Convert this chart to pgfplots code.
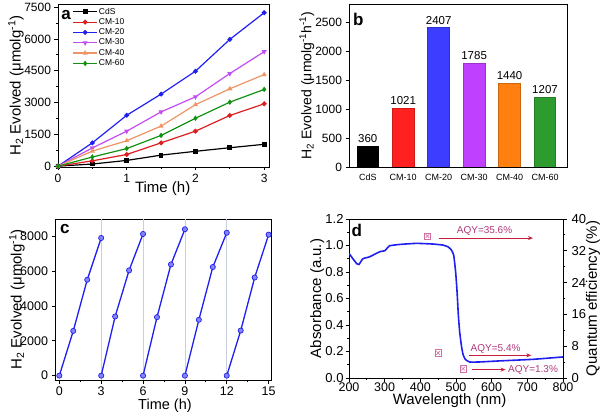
\documentclass[border=0pt]{standalone}
\usepackage{pgfplots}
\pgfplotsset{compat=1.18}
\usepackage{fontspec}
\setmainfont{Liberation Sans}
\usetikzlibrary{arrows.meta}

\definecolor{cRed}{HTML}{DD1E1E}
\definecolor{cBlue}{HTML}{1F1FF0}
\definecolor{cViolet}{HTML}{C24DF2}
\definecolor{cOrange}{HTML}{EE9466}
\definecolor{cGreen}{HTML}{129212}
\definecolor{bRed}{HTML}{FF2020}
\definecolor{bBlue}{HTML}{3D3DFF}
\definecolor{bViolet}{HTML}{C040FF}
\definecolor{bOrange}{HTML}{FF7F10}
\definecolor{bGreen}{HTML}{2E9B2E}
\definecolor{arr}{HTML}{C81E3C}
\definecolor{aqy}{HTML}{B0387A}
\definecolor{mk}{HTML}{D070A0}
\definecolor{gridc}{HTML}{C8D0E0}

\newcommand{\fs}[1]{\fontsize{#1bp}{#1bp}\selectfont}

\pgfplotsset{
  every axis/.append style={
    scale only axis, anchor=south west,
    /pgf/number format/assume math mode=true,
    /pgf/number format/1000 sep={},
    tick align=outside, tick pos=left,
    axis line style={line width=0.9bp},
    major tick length=3.5bp, minor tick length=2bp,
    every tick/.style={black, line width=0.8bp},
  },
  cyc/.style={cBlue, line width=1.3bp, mark=*, mark size=2.6bp,
    mark options={fill=cBlue!55!white, draw=cBlue, line width=0.7bp}},
}

\begin{document}
\begin{tikzpicture}
\useasboundingbox (0,0) rectangle (602bp,414bp);

% ---------- panel a ----------
\begin{axis}[at={(58bp,247bp)}, width=211bp, height=163bp,
  xmin=0, xmax=3.07, ymin=-40, ymax=7650,
  xtick={0,1,2,3}, ytick={0,1500,3000,4500,6000,7500},
  minor x tick num=1, minor y tick num=1,
  ticklabel style={font=\fs{12}},
  xlabel={Time (h)}, ylabel={H\textsubscript{2} Evolved (μmolg\textsuperscript{-1})},
  xlabel style={font=\fs{15}, at={(axis description cs:0.496,-0.131)}, anchor=center},
  ylabel style={font=\fs{15}, at={(axis description cs:-0.199,0.5)}, anchor=center},
  legend style={draw=none, fill=none, font=\fs{8.5}, at={(0.068,0.985)}, anchor=north west,
    row sep=0.5bp, inner sep=0pt, nodes={inner sep=1.2bp}, cells={anchor=west}},
  legend image code/.code={\draw[mark repeat=2,mark phase=2,#1] plot coordinates {(0bp,0bp) (12bp,0bp) (24bp,0bp)};},
  every axis plot/.append style={line width=1.2bp, mark size=1.8bp},
]
\addplot[black, mark=square*] coordinates {(0,0) (0.5,100) (1,270) (1.5,520) (2,700) (2.5,870) (3,1030)};
\addlegendentry{CdS}
\addplot[cRed, mark=*] coordinates {(0,0) (0.5,250) (1,550) (1.5,1100) (2,1650) (2.5,2390) (3,2940)};
\addlegendentry{CM-10}
\addplot[cBlue, mark=*] coordinates {(0,0) (0.5,1100) (1,2400) (1.5,3400) (2,4480) (2.5,5980) (3,7240)};
\addlegendentry{CM-20}
\addplot[cViolet, mark=triangle*, mark options={rotate=180}] coordinates {(0,0) (0.5,860) (1,1650) (1.5,2560) (2,3270) (2.5,4370) (3,5400)};
\addlegendentry{CM-30}
\addplot[cOrange, mark=triangle*] coordinates {(0,0) (0.5,710) (1,1200) (1.5,1890) (2,2900) (2.5,3650) (3,4320)};
\addlegendentry{CM-40}
\addplot[cGreen, mark=diamond*] coordinates {(0,0) (0.5,430) (1,830) (1.5,1450) (2,2260) (2.5,3020) (3,3620)};
\addlegendentry{CM-60}
\node[font=\fs{17}\bfseries] at (axis description cs:0.038,0.933) {a};
\end{axis}

% ---------- panel b ----------
\begin{axis}[at={(349bp,247bp)}, width=218bp, height=163bp,
  xmin=-0.53, xmax=5.62, ymin=0, ymax=2820,
  xtick={0,...,5}, xticklabels={CdS,CM-10,CM-20,CM-30,CM-40,CM-60},
  x tick style={draw=none}, xticklabel style={font=\fs{9}},
  ytick={0,500,1000,1500,2000,2500}, yticklabel style={font=\fs{12}},
  ylabel={H\textsubscript{2} Evolved (μmolg\textsuperscript{-1}h\textsuperscript{-1})},
  ylabel style={font=\fs{14}, at={(axis description cs:-0.193,0.5)}, anchor=center},
  every axis plot/.append style={ybar, bar width=0.61, bar shift=0pt, line width=0.8bp,
    nodes near coords, nodes near coords style={font=\fs{11.5}, black}},
]
\addplot[fill=black, draw=black] coordinates {(0,360)};
\addplot[fill=bRed, draw=bRed!80!black] coordinates {(1,1021)};
\addplot[fill=bBlue, draw=bBlue!80!black] coordinates {(2,2407)};
\addplot[fill=bViolet, draw=bViolet!80!black] coordinates {(3,1785)};
\addplot[fill=bOrange, draw=bOrange!80!black] coordinates {(4,1440)};
\addplot[fill=bGreen, draw=bGreen!80!black] coordinates {(5,1207)};
\node[font=\fs{17}\bfseries] at (axis description cs:0.043,0.905) {b};
\end{axis}

% ---------- panel c ----------
\begin{axis}[at={(55bp,34bp)}, width=216bp, height=161bp,
  xmin=-0.31, xmax=15.17, ymin=-250, ymax=9000,
  xtick={0,3,6,9,12,15}, ytick={0,2000,4000,6000,8000},
  minor x tick num=1,
  ticklabel style={font=\fs{12.5}},
  extra x ticks={3,6,9,12}, extra x tick labels={},
  extra x tick style={grid=major, major grid style={gridc, line width=0.6bp}, major tick length=0pt},
  xlabel={Time (h)}, ylabel={H\textsubscript{2} Evolved (μmolg\textsuperscript{-1})},
  xlabel style={font=\fs{14.5}, at={(axis description cs:0.509,-0.158)}, anchor=center},
  ylabel style={font=\fs{15}, at={(axis description cs:-0.176,0.5)}, anchor=center},
]
\addplot[cyc] coordinates {(0,0) (1,2570) (2,5510) (3,7910)};
\addplot[cyc] coordinates {(3,0) (4,3400) (5,6050) (6,8140)};
\addplot[cyc] coordinates {(6,0) (7,3360) (8,6390) (9,8410)};
\addplot[cyc] coordinates {(9,0) (10,3210) (11,6240) (12,8210)};
\addplot[cyc] coordinates {(12,0) (13,2590) (14,5640) (15,8100)};
\node[font=\fs{17}\bfseries] at (axis description cs:0.046,0.94) {c};
\end{axis}

% ---------- panel d ----------
\begin{axis}[at={(349bp,36bp)}, width=214bp, height=159bp,
  xmin=200, xmax=800, ymin=0, ymax=1.2,
  xtick={200,300,...,800}, ytick={0,0.2,...,1.2},
  minor x tick num=1, minor y tick num=1,
  ticklabel style={font=\fs{13}},
  xticklabel style={yshift=2.6bp, font=\fs{12.5}},
  yticklabel style={xshift=1.5bp, /pgf/number format/.cd, fixed, fixed zerofill, precision=1},
  xlabel={Wavelength (nm)}, ylabel={Absorbance (a.u.)},
  xlabel style={font=\fs{15}, at={(axis description cs:0.47,-0.143)}, anchor=center},
  ylabel style={font=\fs{15}, at={(axis description cs:-0.148,0.5)}, anchor=center},
]
\addplot[cBlue, line width=1.6bp, smooth, tension=0.3] coordinates {
(200,0.94) (211,0.90) (222,0.862) (228,0.857) (239,0.90) (258,0.915) (286,0.953) (300,0.96)
(306.5,0.978) (314,0.998) (342,1.008) (389,1.016) (435.5,1.011) (463.5,1.003) (477.6,0.99)
(487,0.966) (493.5,0.928) (499,0.80) (503,0.65) (506.6,0.474) (510.3,0.348) (515,0.247)
(519.6,0.179) (526,0.141) (538,0.121) (566,0.121) (622,0.129) (716,0.141) (800,0.159)};
\node[font=\fs{17}\bfseries] at (axis description cs:0.036,0.93) {d};
\end{axis}

\begin{axis}[at={(349bp,36bp)}, width=214bp, height=159bp,
  xmin=200, xmax=800, ymin=0, ymax=40,
  axis y line*=right, axis x line=none,
  ytick={0,8,16,24,32,40}, minor y tick num=1,
  yticklabel style={font=\fs{13}, xshift=1.5bp},
  ylabel={Quantum efficiency (\%)},
  ylabel style={font=\fs{15}, at={(axis description cs:1.14,0.5)}, anchor=center, rotate=0},
]
\addplot[only marks, mark=square, mark size=3.2bp, mk, line width=0.7bp] coordinates {(420,35.7) (450,6.3) (520,2.35)};
\addplot[only marks, mark=x, mark size=2.6bp, mk, line width=0.6bp] coordinates {(420,35.7) (450,6.3) (520,2.35)};
\addplot[arr, line width=1.1bp, -{Stealth[length=5bp,width=4bp]}] coordinates {(452,35.2) (716,35.2)};
\addplot[arr, line width=1.1bp, -{Stealth[length=5bp,width=4bp]}] coordinates {(536,5.7) (711,5.7)};
\addplot[arr, line width=1.1bp, -{Stealth[length=5bp,width=4bp]}] coordinates {(546,2.1) (639,2.1)};
\node[aqy, font=\fs{10}] at (axis cs:580,36.9) {AQY=35.6\%};
\node[aqy, font=\fs{10}] at (axis cs:611,7.25) {AQY=5.4\%};
\node[aqy, font=\fs{10}] at (axis cs:716,2.1) {AQY=1.3\%};
\end{axis}
\end{tikzpicture}
\end{document}
